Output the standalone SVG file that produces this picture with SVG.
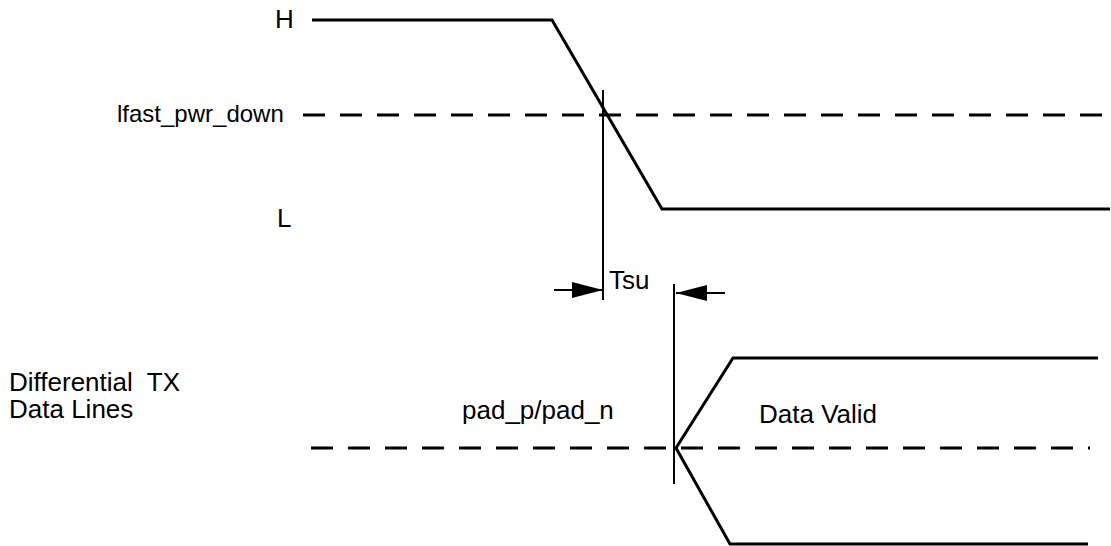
<svg xmlns="http://www.w3.org/2000/svg" width="1111" height="546" viewBox="0 0 1111 546">
<defs>
<style>
.t{font-family:"Liberation Sans",Arial,sans-serif;font-size:26px;fill:#000}
.s{font-size:24px}
.w{fill:none;stroke:#000;stroke-width:3}
.d{fill:none;stroke:#000;stroke-width:3;stroke-dasharray:22 15}
.v{fill:none;stroke:#000;stroke-width:2}
</style>
<marker id="ah" viewBox="0 0 31 16" refX="31" refY="8" markerWidth="31" markerHeight="16" markerUnits="userSpaceOnUse" orient="auto">
<path d="M0,0 L31,8 L0,16 Z" fill="#000"/>
</marker>
</defs>
<rect width="1111" height="546" fill="#fff"/>
<g id="labels">
<text class="t" x="275" y="28">H</text>
<text class="t s" x="117" y="122">lfast_pwr_down</text>
<text class="t" x="277" y="227">L</text>
<text class="t" x="9" y="391" xml:space="preserve">Differential  TX</text>
<text class="t" x="9" y="418">Data Lines</text>
<text class="t" x="462" y="419">pad_p/pad_n</text>
<text class="t" x="759" y="423">Data Valid</text>
<text class="t" x="609" y="289">Tsu</text>
</g>
<g id="signal_pwr_down">
<polyline class="w" points="312,20 552,20 662,209 1110,209"/>
<line class="d" x1="303" y1="115" x2="1111" y2="115"/>
</g>
<g id="signal_data">
<line class="d" x1="311" y1="448" x2="1090" y2="448"/>
<polyline class="w" points="1098,358 733,358 676,448 730,544 1088,544"/>
</g>
<g id="connectors">
<line class="v" x1="603" y1="90" x2="603" y2="300"/>
<line class="v" x1="674" y1="284" x2="674" y2="484"/>
<line class="v" x1="554" y1="290" x2="603" y2="290" marker-end="url(#ah)"/>
<line class="v" x1="725" y1="293" x2="676" y2="293" marker-end="url(#ah)"/>
</g>
</svg>
